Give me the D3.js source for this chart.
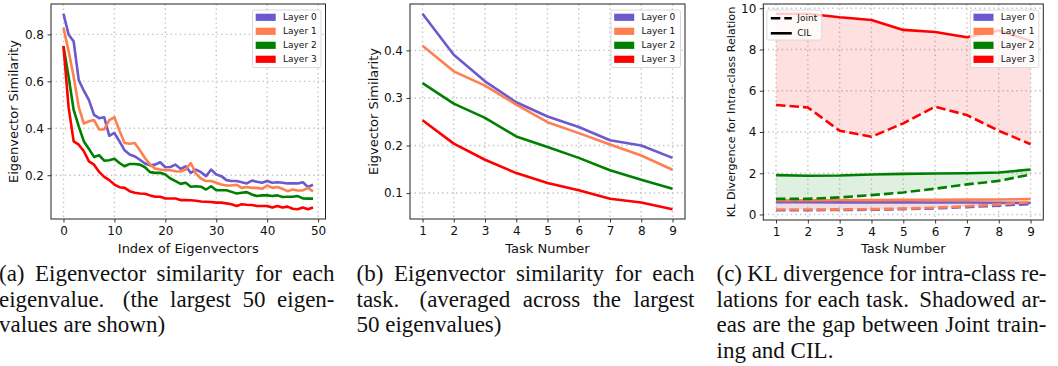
<!DOCTYPE html>
<html>
<head>
<meta charset="utf-8">
<script src="https://cdn.jsdelivr.net/npm/d3@7"></script>
<style>
  body { margin: 0; background: #fff; }
  svg { display: block; }
</style>
</head>
<body>
<svg id="fig" width="1058" height="366"></svg>
<script>
// ---- data ----
const layerNames = ["Layer 0", "Layer 1", "Layer 2", "Layer 3"]
const layerColors = ["#6a5acd", "#ff7f50", "#008000", "#ff0000"]

// (a) similarity per eigenvector index
const eigIndex = d3.range(50)
const simLayer0 = [0.888, 0.80, 0.77, 0.605, 0.56, 0.52, 0.457, 0.443, 0.447, 0.368, 0.38, 0.344, 0.306, 0.288, 0.28, 0.266, 0.25, 0.242, 0.245, 0.255, 0.234, 0.235, 0.245, 0.227, 0.238, 0.21, 0.224, 0.213, 0.196, 0.224, 0.203, 0.196, 0.179, 0.175, 0.175, 0.17, 0.165, 0.177, 0.172, 0.168, 0.175, 0.168, 0.17, 0.168, 0.165, 0.165, 0.165, 0.17, 0.15, 0.159]
const simLayer1 = [0.828, 0.73, 0.62, 0.49, 0.42, 0.43, 0.435, 0.395, 0.395, 0.435, 0.447, 0.39, 0.337, 0.334, 0.337, 0.306, 0.273, 0.245, 0.228, 0.224, 0.221, 0.221, 0.217, 0.216, 0.224, 0.252, 0.207, 0.186, 0.175, 0.175, 0.168, 0.16, 0.156, 0.156, 0.159, 0.146, 0.15, 0.146, 0.146, 0.142, 0.156, 0.146, 0.15, 0.142, 0.132, 0.139, 0.135, 0.135, 0.146, 0.131]
const simLayer2 = [0.75, 0.62, 0.478, 0.408, 0.344, 0.312, 0.278, 0.285, 0.262, 0.264, 0.27, 0.252, 0.238, 0.248, 0.248, 0.245, 0.234, 0.213, 0.21, 0.21, 0.203, 0.186, 0.175, 0.163, 0.168, 0.151, 0.153, 0.151, 0.139, 0.153, 0.136, 0.136, 0.136, 0.129, 0.122, 0.125, 0.128, 0.118, 0.111, 0.114, 0.114, 0.111, 0.114, 0.107, 0.108, 0.108, 0.111, 0.101, 0.1, 0.1]
const simLayer3 = [0.75, 0.49, 0.344, 0.33, 0.302, 0.259, 0.245, 0.214, 0.193, 0.179, 0.16, 0.149, 0.146, 0.132, 0.125, 0.122, 0.121, 0.114, 0.108, 0.108, 0.101, 0.101, 0.101, 0.094, 0.094, 0.093, 0.091, 0.088, 0.087, 0.086, 0.083, 0.083, 0.08, 0.076, 0.069, 0.076, 0.074, 0.073, 0.069, 0.069, 0.069, 0.062, 0.069, 0.062, 0.066, 0.057, 0.055, 0.062, 0.055, 0.062]
const eigXTicks = [0, 10, 20, 30, 40, 50]
const eigYTicks = [0.2, 0.4, 0.6, 0.8]

// (b) averaged similarity per task
const taskNumbers = [1, 2, 3, 4, 5, 6, 7, 8, 9]
const taskSim0 = [0.477, 0.391, 0.335, 0.291, 0.261, 0.239, 0.211, 0.200, 0.174]
const taskSim1 = [0.410, 0.356, 0.326, 0.286, 0.249, 0.226, 0.202, 0.179, 0.149]
const taskSim2 = [0.331, 0.288, 0.258, 0.219, 0.197, 0.174, 0.148, 0.128, 0.109]
const taskSim3 = [0.253, 0.204, 0.170, 0.142, 0.121, 0.106, 0.088, 0.080, 0.066]
const taskYTicks = [0.1, 0.2, 0.3, 0.4]

// (c) KL divergence, joint vs CIL
const klJoint0 = [0.21, 0.21, 0.22, 0.23, 0.26, 0.30, 0.36, 0.43, 0.51]
const klCil0 = [0.60, 0.60, 0.59, 0.59, 0.59, 0.58, 0.58, 0.57, 0.56]
const klJoint1 = [0.24, 0.24, 0.25, 0.26, 0.29, 0.33, 0.40, 0.49, 0.60]
const klCil1 = [0.69, 0.69, 0.70, 0.70, 0.71, 0.71, 0.72, 0.73, 0.75]
const klJoint2 = [0.76, 0.76, 0.83, 0.94, 1.07, 1.25, 1.46, 1.63, 1.94]
const klCil2 = [1.91, 1.88, 1.89, 1.94, 1.97, 1.99, 2.00, 2.04, 2.18]
const klJoint3 = [5.31, 5.19, 4.06, 3.77, 4.42, 5.23, 4.82, 4.06, 3.41]
const klCil3 = [9.73, 9.73, 9.56, 9.43, 8.95, 8.85, 8.59, 8.92, 8.43]
const klYTicks = [0, 2, 4, 6, 8, 10]

const captionA = [["(a) Eigenvector similarity for each", true], ["eigenvalue.  (the largest 50 eigen-", true], ["values are shown)", false]]
const captionB = [["(b) Eigenvector similarity for each", true], ["task.  (averaged across the largest", true], ["50 eigenvalues)", false]]
const captionC = [["(c) KL divergence for intra-class re-", true], ["lations for each task.  Shadowed ar-", true], ["eas are the gap between Joint train-", true], ["ing and CIL.", false]]

// ---- drawing ----
const svg = d3.select("#fig")
const sans = "DejaVu Sans, sans-serif"
const serif = "Liberation Serif, Times New Roman, serif"

function padded(lo, hi) {
    let m = (hi - lo) * 0.05
    return [lo - m, hi + m]
}

function drawAxes(p) {
    let g = svg.append("g")
    let x = d3.scaleLinear().domain(p.xDomain).range([p.left, p.right])
    let y = d3.scaleLinear().domain(p.yDomain).range([p.bottom, p.top])

    // dotted grid
    g.selectAll(".gx").data(p.xTicks).enter().append("line")
        .attr("x1", d => x(d)).attr("x2", d => x(d))
        .attr("y1", p.top).attr("y2", p.bottom)
        .style("stroke", "#c4c4c4").style("stroke-width", 1.4).style("stroke-dasharray", "1.4,3.2")
    g.selectAll(".gy").data(p.yTicks).enter().append("line")
        .attr("x1", p.left).attr("x2", p.right)
        .attr("y1", d => y(d)).attr("y2", d => y(d))
        .style("stroke", "#c4c4c4").style("stroke-width", 1.4).style("stroke-dasharray", "1.4,3.2")

    let xa = g.append("g").attr("transform", "translate(0," + p.bottom + ")")
        .call(d3.axisBottom(x).tickValues(p.xTicks).tickSize(3.5).tickPadding(3.5).tickFormat(p.xFmt || d3.format("d")))
    let ya = g.append("g").attr("transform", "translate(" + p.left + ",0)")
        .call(d3.axisLeft(y).tickValues(p.yTicks).tickSize(3.5).tickPadding(3.5).tickFormat(p.yFmt))
    for (let a of [xa, ya]) {
        a.select(".domain").remove()
        a.selectAll("text").style("font-family", sans).style("font-size", "12px").style("fill", "#111")
        a.selectAll("line").style("stroke", "#222").style("stroke-width", 0.9)
    }

    g.append("text").text(p.xLabel)
        .attr("x", (p.left + p.right) / 2).attr("y", 248).attr("dy", "0.35em")
        .attr("text-anchor", "middle")
        .style("font-family", sans).style("font-size", "13px").style("fill", "#111")
    g.append("text").text(p.yLabel)
        .attr("transform", "translate(" + p.yLabelX + "," + (p.top + p.bottom) / 2 + ") rotate(-90)")
        .attr("dy", "0.35em").attr("text-anchor", "middle")
        .style("font-family", sans).style("font-size", p.yLabelSize).style("fill", "#111")

    let plot = g.append("g")
    return { g: g, plot: plot, x: x, y: y, p: p }
}

function frame(ax) {
    let p = ax.p
    ax.g.append("rect")
        .attr("x", p.left).attr("y", p.top)
        .attr("width", p.right - p.left).attr("height", p.bottom - p.top)
        .style("fill", "none").style("stroke", "#222").style("stroke-width", 1)
}

function drawLine(ax, xs, ys, color, dashed) {
    let line = d3.line().x((d, i) => ax.x(xs[i])).y(d => ax.y(d))
    ax.plot.append("path").datum(ys)
        .attr("d", line)
        .style("fill", "none").style("stroke", color).style("stroke-width", 2.6)
        .style("stroke-linejoin", "round")
        .style("stroke-dasharray", dashed ? "9.5,4" : null)
}

function layerLegend(ax, boxW) {
    let p = ax.p
    let bx = p.right - 4.5 - boxW, by = p.top + 6
    let lg = ax.g.append("g")
    lg.append("rect").attr("x", bx).attr("y", by).attr("width", boxW).attr("height", 57.5)
        .attr("rx", 2).style("fill", "#fff").style("fill-opacity", 0.8)
        .style("stroke", "#d6d6d6").style("stroke-width", 0.9)
    layerNames.forEach((name, i) => {
        let cy = by + 7.3 + i * 14
        lg.append("rect").attr("x", bx + 3.2).attr("y", cy - 3.6).attr("width", 20).attr("height", 7.2)
            .style("fill", layerColors[i])
        lg.append("text").text(name).attr("x", bx + 30.5).attr("y", cy).attr("dy", "0.35em")
            .style("font-family", sans).style("font-size", "9px").style("fill", "#111")
    })
}

// (a)
let axA = drawAxes({
    left: 51, right: 325.5, top: 4, bottom: 219,
    xDomain: padded(0, 49), yDomain: padded(d3.min(simLayer3), d3.max(simLayer0)),
    xTicks: eigXTicks, yTicks: eigYTicks, yFmt: d3.format(".1f"),
    xLabel: "Index of Eigenvectors", yLabel: "Eigenvector Similarity", yLabelX: 13.5, yLabelSize: "13px"
})
let simSeries = [simLayer0, simLayer1, simLayer2, simLayer3]
simSeries.forEach((s, i) => drawLine(axA, eigIndex, s, layerColors[i], false))
frame(axA)
layerLegend(axA, 68.5)

// (b)
let axB = drawAxes({
    left: 410, right: 685, top: 4, bottom: 219,
    xDomain: padded(1, 9), yDomain: padded(d3.min(taskSim3), d3.max(taskSim0)),
    xTicks: taskNumbers, yTicks: taskYTicks, yFmt: d3.format(".1f"),
    xLabel: "Task Number", yLabel: "Eigvector Similarity", yLabelX: 373.5, yLabelSize: "13px"
})
let taskSeries = [taskSim0, taskSim1, taskSim2, taskSim3]
taskSeries.forEach((s, i) => drawLine(axB, taskNumbers, s, layerColors[i], false))
frame(axB)
layerLegend(axB, 69.5)

// (c)
let jointSeries = [klJoint0, klJoint1, klJoint2, klJoint3]
let cilSeries = [klCil0, klCil1, klCil2, klCil3]
let axC = drawAxes({
    left: 763.3, right: 1043.3, top: 4, bottom: 220,
    xDomain: padded(1, 9), yDomain: padded(d3.min(klJoint0), d3.max(klCil3)),
    xTicks: taskNumbers, yTicks: klYTicks, yFmt: d3.format("d"),
    xLabel: "Task Number", yLabel: "KL Divergence for Intra-class Relation", yLabelX: 731, yLabelSize: "11.2px"
})
layerNames.forEach((n, i) => {
    let area = d3.area()
        .x((d, k) => axC.x(taskNumbers[k]))
        .y0((d, k) => axC.y(jointSeries[i][k]))
        .y1((d, k) => axC.y(cilSeries[i][k]))
    axC.plot.append("path").datum(taskNumbers)
        .attr("d", area)
        .style("fill", layerColors[i]).style("fill-opacity", 0.12).style("stroke", "none")
    drawLine(axC, taskNumbers, jointSeries[i], layerColors[i], true)
    drawLine(axC, taskNumbers, cilSeries[i], layerColors[i], false)
})
frame(axC)
layerLegend(axC, 68.5)

// style legend (Joint / CIL)
let sl = axC.g.append("g")
let slx = axC.p.left + 3.5, sly = axC.p.top + 6
sl.append("rect").attr("x", slx).attr("y", sly).attr("width", 55).attr("height", 30)
    .attr("rx", 2).style("fill", "#fff").style("fill-opacity", 0.8)
    .style("stroke", "#d6d6d6").style("stroke-width", 0.9)
const styleNames = ["Joint", "CIL"]
styleNames.forEach((name, i) => {
    let cy = sly + 8.3 + i * 15
    sl.append("line").attr("x1", slx + 4).attr("x2", slx + 25).attr("y1", cy).attr("y2", cy)
        .style("stroke", "#000").style("stroke-width", 2.6)
        .style("stroke-dasharray", i == 0 ? "9.5,4" : null)
    sl.append("text").text(name).attr("x", slx + 30.5).attr("y", cy).attr("dy", "0.35em")
        .style("font-family", sans).style("font-size", "9px").style("fill", "#111")
})

// ---- captions ----
function caption(lines, x0, x1, base) {
    lines.forEach((ln, i) => {
        let y = base + i * 25.7
        if (!ln[1]) {
            svg.append("text").text(ln[0].replace(/  /g, " ")).attr("x", x0).attr("y", y)
                .style("font-family", serif).style("font-size", "23px").style("fill", "#111")
            return
        }
        // justified line, sentence gaps a bit wider
        let parts = ln[0].split(" ")
        let words = [], weights = []
        parts.forEach(w => {
            if (w === "") { weights[weights.length - 1] = 1.6 }
            else { words.push(w); weights.push(1) }
        })
        weights.pop()
        let nodes = words.map(w => svg.append("text").text(w).attr("y", y)
            .style("font-family", serif).style("font-size", "23px").style("fill", "#111"))
        let widths = nodes.map(n => n.node().getComputedTextLength())
        let gapUnit = (x1 - x0 - d3.sum(widths)) / d3.sum(weights)
        let cx = x0
        nodes.forEach((n, k) => {
            n.attr("x", cx)
            cx += widths[k] + (k < weights.length ? weights[k] * gapUnit : 0)
        })
    })
}
caption(captionA, -1, 334.5, 281)
caption(captionB, 356.5, 694.5, 281)
caption(captionC, 716.5, 1046.5, 281)
</script>
</body>
</html>
